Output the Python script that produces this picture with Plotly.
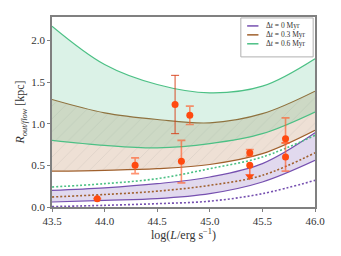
import plotly.graph_objects as go

# ---- data ----
logL = [43.5, 44.0, 44.5, 45.0, 45.5, 46.0]

green_upper = [2.17, 1.71, 1.47, 1.37, 1.45, 1.78]
green_lower = [0.80, 0.74, 0.71, 0.76, 0.88, 1.14]
brown_upper = [1.29, 1.13, 1.05, 1.01, 1.12, 1.39]
brown_lower = [0.43, 0.44, 0.46, 0.51, 0.64, 0.92]
purple_upper = [0.20, 0.23, 0.28, 0.36, 0.52, 0.89]
purple_lower = [0.06, 0.08, 0.10, 0.16, 0.30, 0.56]

green_dotted = [0.24, 0.28, 0.34, 0.46, 0.60, 0.86]
brown_dotted = [0.12, 0.15, 0.19, 0.26, 0.38, 0.65]
purple_dotted = [0.005, 0.02, 0.04, 0.07, 0.16, 0.32]

obs_x = [43.93, 44.29, 44.73, 44.81, 45.38, 45.72, 45.72]
obs_y = [0.10, 0.50, 0.55, 1.10, 0.65, 0.82, 0.60]
obs_up = [0.0, 0.09, 0.25, 0.11, 0.04, 0.25, 0.17]
obs_dn = [0.0, 0.10, 0.26, 0.11, 0.04, 0.05, 0.17]

wide_x = [44.67]
wide_y = [1.23]
wide_up = [0.35]
wide_dn = [0.35]

lim_x = [45.38]
lim_y = [0.50]
lim_dn = [0.13]

legend_labels = ["Δ<i>t</i> = 0 Myr", "Δ<i>t</i> = 0.3 Myr", "Δ<i>t</i> = 0.6 Myr"]

PURPLE = "#7650b0"
BROWN = "#a0602d"
GREEN = "#4cc085"
RED = "#ff4a10"
FONT = "Liberation Serif"

fig = go.Figure()

def band(lower, upper, color, fillcolor, pattern=None):
    fig.add_trace(go.Scatter(x=logL, y=lower, mode="lines", line=dict(color=color, width=1.2, shape="spline"),
                             showlegend=False, hoverinfo="skip"))
    kw = {}
    if pattern:
        kw["fillpattern"] = pattern
    fig.add_trace(go.Scatter(x=logL, y=upper, mode="lines", line=dict(color=color, width=1.2, shape="spline"),
                             fill="tonexty", fillcolor=fillcolor, showlegend=False, **kw))

band(purple_lower, purple_upper, PURPLE, "rgba(118,80,176,0.22)")
band(brown_lower, brown_upper, BROWN, "rgba(175,115,65,0.22)",
     pattern=dict(shape="/", fgcolor="rgba(100,100,100,0.4)", bgcolor="rgba(175,115,65,0.22)",
                  size=9, solidity=0.05, fillmode="overlay"))
band(green_lower, green_upper, GREEN, "rgba(76,192,133,0.2)")

for vals, col in [(purple_dotted, PURPLE), (brown_dotted, BROWN), (green_dotted, GREEN)]:
    fig.add_trace(go.Scatter(x=logL, y=vals, mode="lines",
                             line=dict(color=col, width=1.6, dash="2px,2px", shape="spline"),
                             showlegend=False, hoverinfo="skip"))

fig.add_trace(go.Scatter(x=wide_x, y=wide_y, mode="markers",
                         marker=dict(color=RED, size=7),
                         error_y=dict(type="data", symmetric=False, array=wide_up, arrayminus=wide_dn,
                                      color="rgba(215,60,20,0.9)", thickness=1, width=4),
                         showlegend=False))
fig.add_trace(go.Scatter(x=obs_x, y=obs_y, mode="markers",
                         marker=dict(color=RED, size=7),
                         error_y=dict(type="data", symmetric=False, array=obs_up, arrayminus=obs_dn,
                                      color="rgba(255,90,40,0.65)", thickness=1.6, width=4),
                         showlegend=False))
fig.add_trace(go.Scatter(x=lim_x, y=lim_y, mode="markers",
                         marker=dict(color=RED, size=7),
                         error_y=dict(type="data", symmetric=False, array=[0], arrayminus=lim_dn,
                                      color="rgba(255,90,40,0.8)", thickness=1.6, width=0),
                         showlegend=False))
fig.add_trace(go.Scatter(x=lim_x, y=[lim_y[0] - lim_dn[0]], mode="markers",
                         marker=dict(color=RED, size=8, symbol="triangle-down"),
                         showlegend=False))

# ---- manual legend (box, line samples, labels) ----
shapes = [dict(type="rect", xref="paper", yref="paper", x0=0.718, x1=0.993, y0=0.79, y1=0.995,
               line=dict(color="#b0b0b0", width=1), fillcolor="white", layer="above")]
annotations = []
leg_rows = [0.953, 0.906, 0.859]
for lab, col, yy in zip(legend_labels, [PURPLE, BROWN, GREEN], leg_rows):
    shapes.append(dict(type="line", xref="paper", yref="paper", x0=0.742, x1=0.785, y0=yy, y1=yy,
                       line=dict(color=col, width=1.5), layer="above"))
    annotations.append(dict(xref="paper", yref="paper", x=0.805, y=yy, text=lab, showarrow=False,
                            xanchor="left", yanchor="middle", font=dict(family=FONT, size=7.5, color="#333")))

axis_common = dict(showline=True, linecolor="#808080", linewidth=1.5, mirror=True,
                   ticks="outside", ticklen=3, tickcolor="#808080", showgrid=False, zeroline=False,
                   tickfont=dict(family=FONT, size=11, color="#333"))

# the page body has an 8px margin, so the figure is 16px smaller than the window
fig.update_layout(
    width=325, height=240,
    margin=dict(l=44, r=18, t=7, b=41),
    paper_bgcolor="white", plot_bgcolor="white",
    font=dict(family=FONT, color="#333"),
    xaxis=dict(range=[43.5, 46.0], tickvals=[43.5, 44.0, 44.5, 45.0, 45.5, 46.0],
               ticktext=["43.5", "44.0", "44.5", "45.0", "45.5", "46.0"],
               title=dict(text="log(<i>L</i>/erg s<sup>−1</sup>)", font=dict(family=FONT, size=12), standoff=4),
               **axis_common),
    yaxis=dict(range=[0, 2.28], tickvals=[0, 0.5, 1.0, 1.5, 2.0],
               ticktext=["0.0", "0.5", "1.0", "1.5", "2.0"],
               title=dict(text="<i>R</i><sub><i>out/flow</i></sub> [kpc]", font=dict(family=FONT, size=12), standoff=4),
               **axis_common),
    shapes=shapes,
    annotations=annotations,
    showlegend=False,
)

fig.write_html("out.html")
